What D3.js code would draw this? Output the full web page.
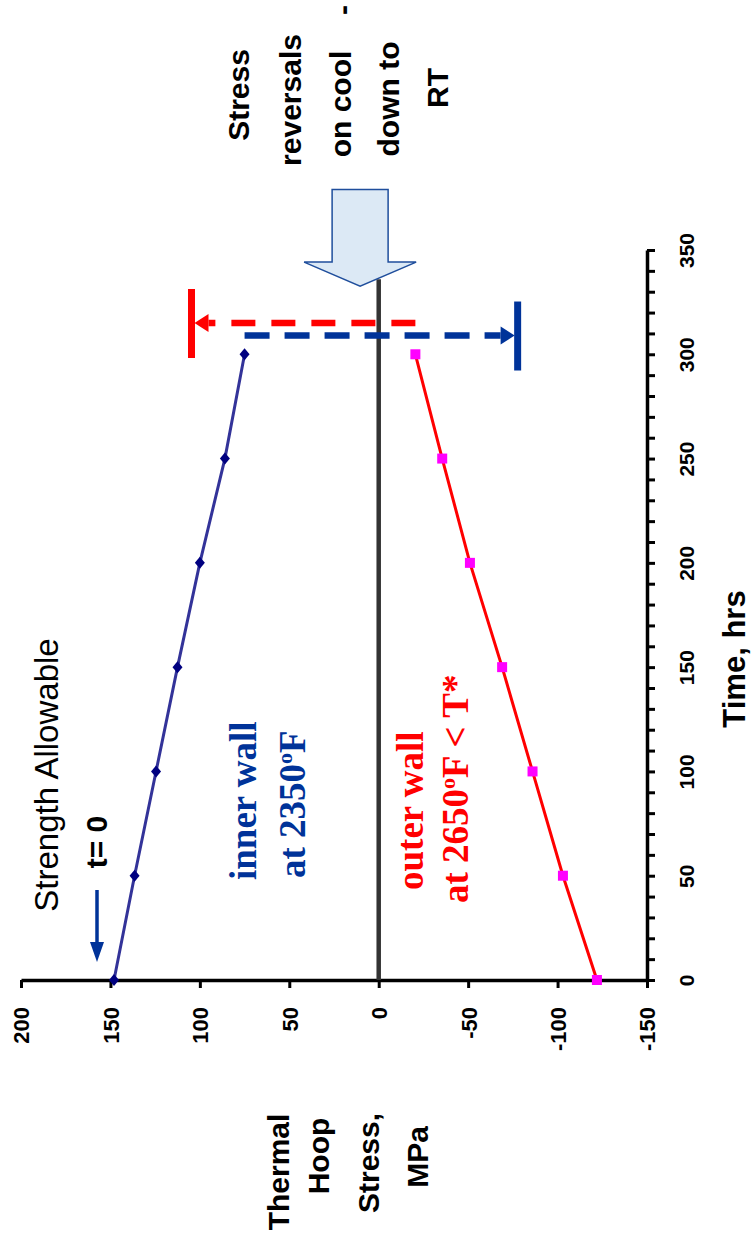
<!DOCTYPE html>
<html>
<head>
<meta charset="utf-8">
<script src="https://cdn.jsdelivr.net/npm/d3@7/dist/d3.min.js"></script>
<style>
  html, body { margin: 0; padding: 0; background: #fff; }
  svg { display: block; }
</style>
</head>
<body>
<svg id="chart" width="751" height="1243"></svg>
<script>
// ---- data ----
const times = [0, 50, 100, 150, 200, 250, 300];
const innerWall = [148, 136.5, 124.5, 112.5, 100, 86, 75];
const outerWall = [-122, -103, -86, -69, -51, -35.5, -20.5];
const stressTicks = [200, 150, 100, 50, 0, -50, -100, -150];
const timeTicks = d3.range(0, 351, 10);
const timeLabels = [0, 50, 100, 150, 200, 250, 300, 350];
// reversal annotation (time, from stress, to stress)
const outerReversal = { t: 315, from: -20.5, to: 103 };
const innerReversal = { t: 309, from: 75, to: -76 };
const headerLines = ["Stress", "reversals", "on cool", "down to", "RT"];
const stressTitle = ["Thermal", "Hoop", "Stress,", "MPa"];

const svg = d3.select("#chart");
const x = d3.scaleLinear().domain([200, -150]).range([21, 647]);
const y = d3.scaleLinear().domain([0, 350]).range([980, 250]);

function rot(px, py) { return `translate(${px},${py}) rotate(-90)`; }

// stress axis (bottom)
const gx = svg.append("g").attr("transform", `translate(0,${y(0)})`)
  .call(d3.axisBottom(x).tickValues(stressTicks).tickSize(8).tickSizeOuter(0).tickFormat(d => String(d)));
gx.select(".domain").attr("stroke", "#000").attr("stroke-width", 3.5);
gx.selectAll(".tick line").attr("stroke", "#000").attr("stroke-width", 3);
gx.selectAll(".tick text")
  .attr("transform", "rotate(-90)")
  .attr("x", -27).attr("y", 0).attr("dy", "0.36em")
  .attr("text-anchor", "end")
  .style("font-family", "'Liberation Sans', Arial, sans-serif")
  .style("font-weight", "bold").style("font-size", "22px").attr("fill", "#000");

// time axis (right side at stress = -150)
const gy = svg.append("g").attr("transform", `translate(${x(-150)},0)`)
  .call(d3.axisRight(y).tickValues(timeTicks).tickSize(8).tickSizeOuter(0)
    .tickFormat(d => timeLabels.includes(d) ? String(d) : ""));
gy.select(".domain").attr("stroke", "#000").attr("stroke-width", 3.5);
gy.selectAll(".tick line").attr("stroke", "#000").attr("stroke-width", 3);
gy.selectAll(".tick text")
  .attr("transform", "rotate(-90)")
  .attr("x", 0).attr("y", 39).attr("dy", "0.36em")
  .attr("text-anchor", "middle")
  .style("font-family", "'Liberation Sans', Arial, sans-serif")
  .style("font-weight", "bold").style("font-size", "21px").attr("fill", "#000");

// zero stress line
svg.append("line")
  .attr("x1", x(0)).attr("x2", x(0)).attr("y1", y(0)).attr("y2", y(336))
  .attr("stroke", "#333").attr("stroke-width", 4.5);

// block arrow (cool-down)
const bx = 10.4;
const arrowPts = [
  [x(bx) - 28, y(379)], [x(bx) + 28, y(379)], [x(bx) + 28, y(344.2)], [x(bx) + 56, y(344.2)],
  [x(bx), y(332.7)], [x(bx) - 56, y(344.2)], [x(bx) - 28, y(344.2)]
];
svg.append("polygon").attr("points", arrowPts.map(p => p.join(",")).join(" "))
  .attr("fill", "#dce9f5").attr("stroke", "#1f4e9c").attr("stroke-width", 1.5);

// series lines
const pts = (vals) => times.map((t, i) => [x(vals[i]), y(t)]);
const line = d3.line();
svg.append("path").attr("d", line(pts(innerWall)))
  .attr("fill", "none").attr("stroke", "#333399").attr("stroke-width", 3);
svg.append("path").attr("d", line(pts(outerWall)))
  .attr("fill", "none").attr("stroke", "#ff0000").attr("stroke-width", 3);

// markers
svg.append("g").selectAll("path").data(pts(innerWall)).join("path")
  .attr("d", d => `M${d[0]},${d[1] - 6}L${d[0] + 5},${d[1]}L${d[0]},${d[1] + 6}L${d[0] - 5},${d[1]}Z`)
  .attr("fill", "#000080");
svg.append("g").selectAll("rect").data(pts(outerWall)).join("rect")
  .attr("x", d => d[0] - 5).attr("y", d => d[1] - 5).attr("width", 10).attr("height", 10)
  .attr("fill", "#ff00ff");

// reversal arrows
function reversal(r, color, dash) {
  const x0 = x(r.from), x1 = x(r.to), yy = y(r.t);
  const dir = Math.sign(x1 - x0);
  const base = x1 - dir * 14;
  svg.append("line").attr("x1", x0).attr("x2", base).attr("y1", yy).attr("y2", yy)
    .attr("stroke", color).attr("stroke-width", 6.5).attr("stroke-dasharray", dash);
  svg.append("polygon")
    .attr("points", `${x1},${yy} ${base},${yy - 9} ${base},${yy + 9}`)
    .attr("fill", color);
  svg.append("line").attr("x1", x1 + dir * 3).attr("x2", x1 + dir * 3)
    .attr("y1", yy - 34).attr("y2", yy + 35)
    .attr("stroke", color).attr("stroke-width", 7);
}
reversal(outerReversal, "#ff0000", "24 16");
reversal(innerReversal, "#003399", "25 15");

// header text
const hx = [238, 290, 340, 388, 437];
const hy = [95, 100, 104, 99, 88];
headerLines.forEach((s, i) => {
  svg.append("text").attr("transform", rot(hx[i], hy[i]))
    .attr("text-anchor", "middle").attr("dy", "0.36em")
    .style("font-family", "'Liberation Sans', Arial, sans-serif")
    .style("font-weight", "bold").style("font-size", "30px").text(s);
});
svg.append("text").attr("transform", rot(342, 10))
  .attr("text-anchor", "middle").attr("dy", "0.36em")
  .style("font-family", "'Liberation Sans', Arial, sans-serif")
  .style("font-weight", "bold").style("font-size", "30px").text("-");

// Strength Allowable / t=0
svg.append("text").attr("transform", rot(46, 775))
  .attr("text-anchor", "middle").attr("dy", "0.36em")
  .style("font-family", "'Liberation Sans', Arial, sans-serif")
  .style("font-size", "33px").text("Strength Allowable");
svg.append("text").attr("transform", rot(96, 842))
  .attr("text-anchor", "middle").attr("dy", "0.36em")
  .style("font-family", "'Liberation Sans', Arial, sans-serif")
  .style("font-weight", "bold").style("font-size", "30px").text("t= 0");
svg.append("line").attr("x1", 97).attr("x2", 97).attr("y1", 890).attr("y2", 944)
  .attr("stroke", "#003399").attr("stroke-width", 3.5);
svg.append("polygon").attr("points", "90,942 104,942 97,962").attr("fill", "#003399");

// wall labels (serif)
function serifLabel(cx, startY, color, pre, post) {
  const t = svg.append("text").attr("transform", rot(cx, startY))
    .attr("text-anchor", "start").attr("dy", "0.36em")
    .style("font-family", "'Liberation Serif', 'Times New Roman', serif")
    .style("font-weight", "bold").style("font-size", "37px").attr("fill", color);
  t.append("tspan").text(pre);
  if (post !== undefined) {
    t.append("tspan").attr("dy", "-13").style("font-size", "22px").text("o");
    t.append("tspan").attr("dy", "13").text(post);
  }
}
serifLabel(243, 880, "#003399", "inner wall");
serifLabel(292, 878, "#003399", "at 2350", "F");
serifLabel(410, 890, "#ff0000", "outer wall");
serifLabel(455, 903, "#ff0000", "at 2650", "F < T*");

// axis titles
svg.append("text").attr("transform", rot(734, 659))
  .attr("text-anchor", "middle").attr("dy", "0.36em")
  .style("font-family", "'Liberation Sans', Arial, sans-serif")
  .style("font-weight", "bold").style("font-size", "31px").text("Time, hrs");
const tx = [278, 318, 368, 417];
const ty = [1172, 1156, 1163, 1157];
stressTitle.forEach((s, i) => {
  svg.append("text").attr("transform", rot(tx[i], ty[i]))
    .attr("text-anchor", "middle").attr("dy", "0.36em")
    .style("font-family", "'Liberation Sans', Arial, sans-serif")
    .style("font-weight", "bold").style("font-size", "30px").text(s);
});
</script>
</body>
</html>
